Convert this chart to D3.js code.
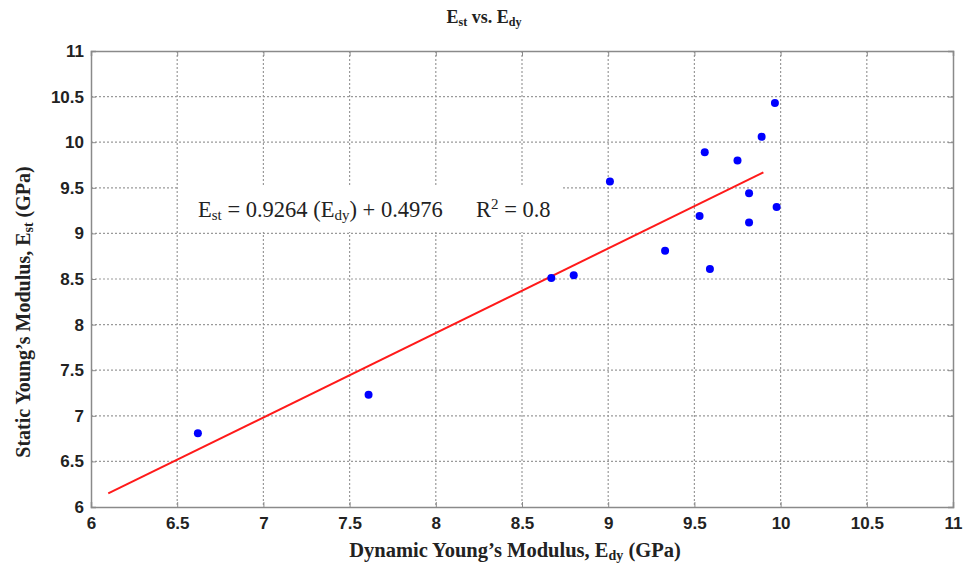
<!DOCTYPE html>
<html>
<head>
<meta charset="utf-8">
<script src="https://cdn.jsdelivr.net/npm/d3@7"></script>
<style>
  body { margin: 0; background: #fff; }
  .serif { font-family: 'Liberation Serif', 'Times New Roman', serif; }
</style>
</head>
<body>
<div id="chart"></div>
<script>
const dynamicE = [6.62, 7.61, 8.67, 8.80, 9.01, 9.33, 9.53, 9.56, 9.59, 9.75, 9.817, 9.817, 9.89, 9.967, 9.977]
const staticE = [6.81, 7.23, 8.51, 8.54, 9.57, 8.81, 9.19, 9.89, 8.61, 9.80, 9.44, 9.12, 10.06, 10.43, 9.29]
const fitSlope = 0.9264
const fitIntercept = 0.4976
const fitRange = [6.1, 9.9]
const xTicks = [6, 6.5, 7, 7.5, 8, 8.5, 9, 9.5, 10, 10.5, 11]
const yTicks = [6, 6.5, 7, 7.5, 8, 8.5, 9, 9.5, 10, 10.5, 11]

const margin = { top: 51, left: 91, right: 10, bottom: 58 }
const width = 963 - margin.left - margin.right
const height = 565 - margin.top - margin.bottom

const svg = d3
  .select('#chart')
  .append('svg')
  .attr('width', 963)
  .attr('height', 565)

const g = svg.append('g')
  .attr('transform', 'translate(' + margin.left + ',' + margin.top + ')')

const xScale = d3.scaleLinear().domain([6, 11]).range([0, width])
const yScale = d3.scaleLinear().domain([6, 11]).range([height, 0])

// grid
g.selectAll('.vgrid')
  .data(xTicks.slice(1, -1))
  .enter()
  .append('line')
  .attr('x1', d => xScale(d)).attr('x2', d => xScale(d))
  .attr('y1', 0).attr('y2', height)
  .attr('stroke', '#9a9a9a').attr('stroke-width', 1.2)
  .attr('stroke-dasharray', '2,2')

g.selectAll('.hgrid')
  .data(yTicks.slice(1, -1))
  .enter()
  .append('line')
  .attr('y1', d => yScale(d)).attr('y2', d => yScale(d))
  .attr('x1', 0).attr('x2', width)
  .attr('stroke', '#9a9a9a').attr('stroke-width', 1.2)
  .attr('stroke-dasharray', '2,2')

// axes
g.append('g')
  .attr('transform', 'translate(0,' + height + ')')
  .call(d3.axisBottom(xScale).tickValues(xTicks).tickSize(-5).tickPadding(10).tickFormat(d3.format('')))
g.append('g')
  .call(d3.axisLeft(yScale).tickValues(yTicks).tickSize(-5).tickPadding(7).tickFormat(d3.format('')))
g.append('g')
  .call(d3.axisTop(xScale).tickValues(xTicks).tickSize(-5).tickFormat(''))
g.append('g')
  .attr('transform', 'translate(' + width + ',0)')
  .call(d3.axisRight(yScale).tickValues(yTicks).tickSize(-5).tickFormat(''))
svg.selectAll('.domain').attr('stroke', '#8a8a8a').attr('stroke-width', 1.5)
svg.selectAll('.tick line').attr('stroke', '#8a8a8a')
svg.selectAll('.tick text')
  .attr('font-family', "'Liberation Sans', Arial, sans-serif")
  .attr('font-weight', 'bold')
  .attr('font-size', 17)
  .attr('fill', '#222')

// equation box
const eq = g.append('g').attr('transform', 'translate(' + (178 - margin.left) + ',' + (186 - margin.top) + ')')
eq.append('rect').attr('width', 385).attr('height', 46).attr('fill', '#fff')
const eqText = eq.append('text')
  .attr('class', 'serif')
  .attr('x', 20).attr('y', 31)
  .attr('font-size', 22.5)
  .attr('fill', '#222')
eqText.append('tspan').text('E')
eqText.append('tspan').attr('font-size', 15).attr('dy', 3).text('st')
eqText.append('tspan').attr('dy', -3).text(' = 0.9264 (E')
eqText.append('tspan').attr('font-size', 15).attr('dy', 3).text('dy')
eqText.append('tspan').attr('dy', -3).text(') + 0.4976')
eqText.append('tspan').attr('x', 298).text('R')
eqText.append('tspan').attr('font-size', 15).attr('dy', -8).text('2')
eqText.append('tspan').attr('dy', 8).text(' = 0.8')

// fit line
g.append('line')
  .attr('x1', xScale(fitRange[0]))
  .attr('y1', yScale(fitSlope * fitRange[0] + fitIntercept))
  .attr('x2', xScale(fitRange[1]))
  .attr('y2', yScale(fitSlope * fitRange[1] + fitIntercept))
  .attr('stroke', '#ff1a1a')
  .attr('stroke-width', 2)

// points
g.selectAll('.pt')
  .data(dynamicE)
  .enter()
  .append('circle')
  .attr('class', 'pt')
  .attr('cx', d => xScale(d))
  .attr('cy', (d, i) => yScale(staticE[i]))
  .attr('r', 4)
  .attr('fill', '#0000ff')

// title
const title = svg.append('text')
  .attr('class', 'serif')
  .attr('x', 484).attr('y', 23)
  .attr('text-anchor', 'middle')
  .attr('font-size', 18)
  .attr('font-weight', 'bold')
  .attr('fill', '#222')
title.append('tspan').text('E')
title.append('tspan').attr('font-size', 12).attr('dy', 3).text('st')
title.append('tspan').attr('dy', -3).text(' vs. E')
title.append('tspan').attr('font-size', 12).attr('dy', 3).text('dy')

// x label
const xl = svg.append('text')
  .attr('class', 'serif')
  .attr('x', 515).attr('y', 557)
  .attr('text-anchor', 'middle')
  .attr('font-size', 20.5)
  .attr('font-weight', 'bold')
  .attr('fill', '#222')
xl.append('tspan').text('Dynamic Young\u2019s Modulus, E')
xl.append('tspan').attr('font-size', 14).attr('dy', 3).text('dy')
xl.append('tspan').attr('dy', -3).text(' (GPa)')

// y label
const yl = svg.append('text')
  .attr('class', 'serif')
  .attr('transform', 'translate(30,312) rotate(-90)')
  .attr('text-anchor', 'middle')
  .attr('font-size', 20)
  .attr('font-weight', 'bold')
  .attr('fill', '#222')
yl.append('tspan').text('Static Young\u2019s Modulus, E')
yl.append('tspan').attr('font-size', 14).attr('dy', 3).text('st')
yl.append('tspan').attr('dy', -3).text(' (GPa)')
</script>
</body>
</html>
